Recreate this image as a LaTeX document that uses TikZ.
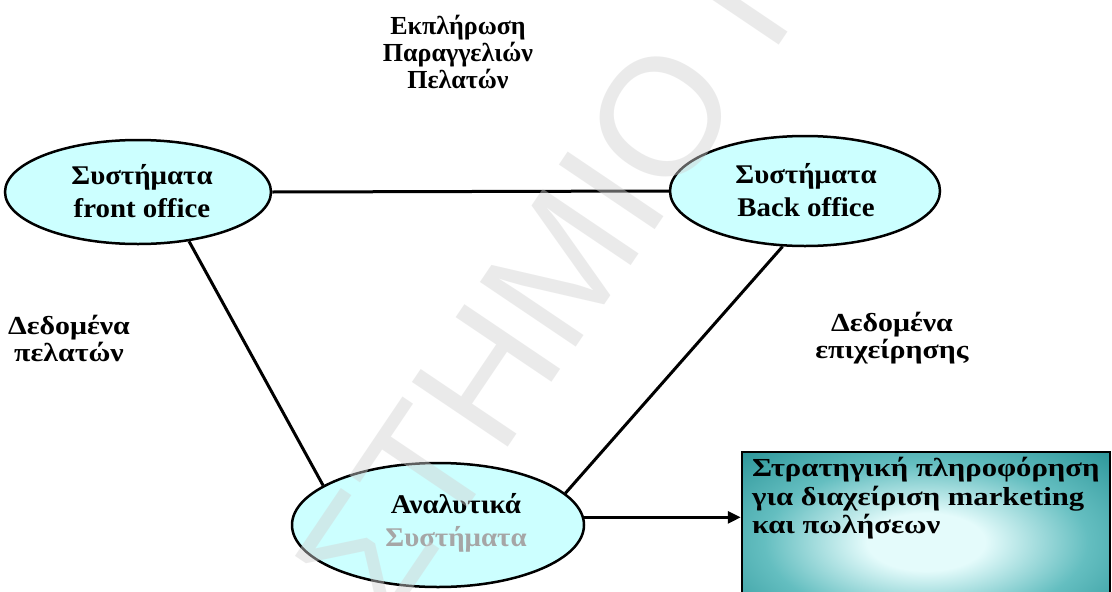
\documentclass[tikz,border=0pt]{standalone}
\usepackage{fontspec}
\setmainfont{Liberation Serif}
\newfontfamily\wmfont{Liberation Sans}
\newfontfamily\elfont[FakeStretch=1.07]{Liberation Serif}
\newfontfamily\lblfont[FakeStretch=1.15]{Liberation Serif}
\newfontfamily\boxfont[FakeStretch=1.18]{Liberation Serif}
\usetikzlibrary{shapes.geometric,arrows.meta}
\definecolor{ellfill}{RGB}{204,255,255}
\definecolor{tealdark}{RGB}{34,142,146}
\definecolor{tealmid}{RGB}{100,190,192}
\definecolor{teallight}{RGB}{228,251,251}
\pgfdeclareradialshading{boxglow}{\pgfpoint{0bp}{0bp}}{%
  color(0bp)=(teallight); color(8bp)=(teallight); color(22bp)=(tealmid);
  color(38bp)=(tealdark); color(75bp)=(tealdark)}
\begin{document}
\begin{tikzpicture}[x=1pt,y=-1pt,
  sys/.style={ellipse, draw=black, line width=2.5pt, fill=ellfill, inner sep=0pt},
  systext/.style={align=center, inner sep=0pt, font=\elfont\fontsize{27}{33}\selectfont\bfseries},
  lbl/.style={align=center, inner sep=0pt, font=\lblfont\fontsize{26}{27}\selectfont\bfseries},
  link/.style={line width=3pt, black},
]
\useasboundingbox (0,0) rectangle (1112,592);
\clip (0,0) rectangle (1112,592);
\fill[white] (0,0) rectangle (1112,592);

% the three system groups
\node[sys, minimum width=266, minimum height=104] (front) at (138,192) {};
\node[sys, minimum width=270, minimum height=110] (back) at (805,191) {};
\node[sys, minimum width=292, minimum height=124] (anal) at (438,525) {};
\node[systext] (fronttext) at (142,191) {Συστήματα\\front office};
\node[systext] (backtext) at (806,190) {Συστήματα\\Back office};
\node[systext] (analtext) at (456,523) {Αναλυτικά\\\textcolor{gray!70}{Συστήματα}};

% output box
\node[draw=black, line width=2.5pt, shading=boxglow, minimum width=368, minimum height=180,
  inner sep=0pt] (box) at (926,542) {};
\node[anchor=north west, align=left, inner sep=0pt,
  font=\boxfont\fontsize{26}{28.5}\selectfont\bfseries] (boxtext) at (752,457)
  {Στρατηγική πληροφόρηση\\για διαχείριση marketing\\και πωλήσεων};

% connections
\draw[link] (front.east) -- (back.west);
\draw[link] (front.-44) -- (anal.161);
\draw[link] (back.-112) -- (anal.14);
\draw[link, -{Triangle[length=13pt,width=12pt]}] (anal.3) -- (anal.3 -| box.west);

% flow labels
\node[systext, font=\fontsize{26}{27}\selectfont\bfseries] (order) at (458,52)
  {Εκπλήρωση\\Παραγγελιών\\Πελατών};
\node[lbl] (custdata) at (69,338) {Δεδομένα\\πελατών};
\node[lbl] (bizdata) at (892,338) {Δεδομένα\\επιχείρησης};

% faint diagonal watermark
\node[rotate=56, anchor=base west, text=gray!35, text opacity=0.45, inner sep=0pt,
  font=\wmfont\fontsize{168}{168}\selectfont] (wm) at (385,630) {ΣΤΗΜΙΟ Π};
\end{tikzpicture}
\end{document}
